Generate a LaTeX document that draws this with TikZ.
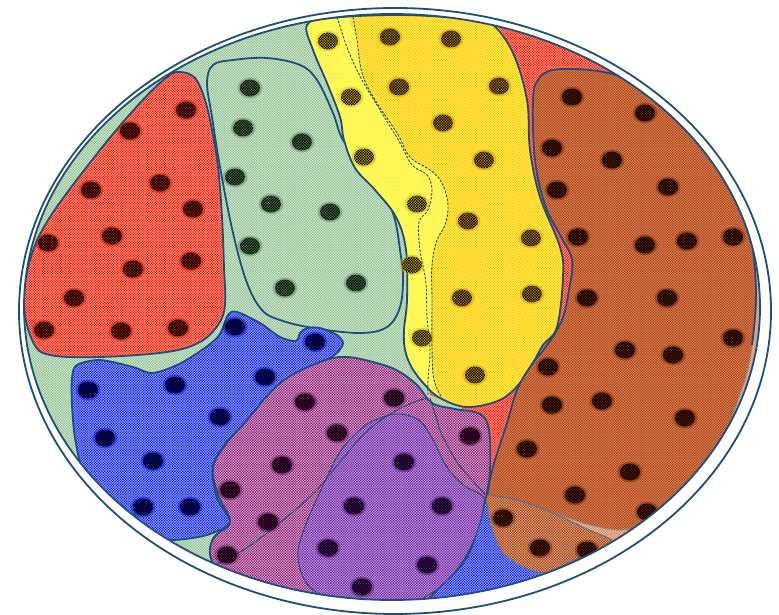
\documentclass[tikz,border=0pt]{standalone}
\usetikzlibrary{patterns}
\pgfdeclarepatternformonly{finecheck}{\pgfqpoint{-0.05pt}{-0.05pt}}{\pgfqpoint{2.65pt}{2.65pt}}{\pgfqpoint{2.6pt}{2.6pt}}{%
  \pgfpathrectangle{\pgfqpoint{0pt}{0pt}}{\pgfqpoint{1.3pt}{1.3pt}}%
  \pgfpathrectangle{\pgfqpoint{1.3pt}{1.3pt}}{\pgfqpoint{1.3pt}{1.3pt}}%
  \pgfusepath{fill}}
\definecolor{edge}{RGB}{31,78,121}
\definecolor{cgreen}{RGB}{140,190,140}
\definecolor{cred}{RGB}{255,25,0}
\definecolor{cblue}{RGB}{10,30,255}
\definecolor{cyel}{RGB}{255,245,0}
\definecolor{cgold}{RGB}{255,195,0}
\definecolor{cbrown}{RGB}{180,60,5}
\definecolor{ctan}{RGB}{210,130,80}
\definecolor{cmag}{RGB}{140,20,115}
\definecolor{cvio}{RGB}{110,30,165}
\definecolor{dred}{RGB}{150,25,0}
\definecolor{dgreen}{RGB}{80,120,80}
\definecolor{dyel}{RGB}{200,170,0}
\definecolor{dgold}{RGB}{190,140,0}
\definecolor{dbrown}{RGB}{100,30,0}
\definecolor{dblue}{RGB}{0,10,150}
\definecolor{dmag}{RGB}{90,10,75}
\definecolor{dvio}{RGB}{75,15,110}
\tikzset{
  region/.style 2 args={preaction={fill=#2}, pattern=finecheck, pattern color=#1},
  outline/.style={draw=edge, line width=1.8pt},
  thinline/.style={draw=edge, line width=0.9pt},
  dashline/.style={draw=edge, line width=0.9pt, dash pattern=on 2.5pt off 1.5pt},
  spot/.style={preaction={fill=#1}, pattern=finecheck, pattern color=black},
}
\newcommand\spotset[2]{\foreach \xx/\yy in {#2}{%
  \fill[#1,opacity=.4] (\xx,\yy) ellipse [x radius=12.5pt,y radius=10.5pt];
  \path[spot=#1] (\xx,\yy) ellipse [x radius=10pt,y radius=8.5pt];}}
\begin{document}
\begin{tikzpicture}[x=1pt,y=-1pt]
\useasboundingbox (0,0) rectangle (779,615);
% green background ellipse
\path[region={cgreen}{cgreen!25!white}] (392,307) ellipse [x radius=368pt, y radius=293pt];
\begin{scope}
\clip (392,307) ellipse [x radius=368pt, y radius=293pt];
% big red region on the right
\path[region={cred}{cred!35!white}] (385,0) -- (790,0) -- (790,420) -- (640,560) -- (488,505) -- (478,440) -- (460,405) -- (430,395) -- (420,250) -- cycle;
% blue region at the bottom
\path[region={cblue}{cblue!30!white}] (470,470) -- (490,500) -- (492,530) -- (510,560) -- (545,575) -- (560,600) -- (560,640) -- (380,640) -- (420,580) -- cycle;
% tan band of the brown region
\path[region={ctan}{ctan!40!white}] plot[smooth, tension=.6] coordinates {(487,497) (493,467) (507,423) (517,390) (530,367) (547,345) (562,320) (569,290) (572,260) (560,235) (545,205) (535,160) (533,100) (538,80) (553,70) (590,70) (623,77) (653,90) (680,110) (713,140) (743,197)} -- (800,200) -- (800,640) -- (556,600) -- (545,570) -- (505,550) -- (490,520) -- cycle;
% red region on the left
\path[region={cred}{cred!35!white}, outline] plot[smooth cycle, tension=.6] coordinates {(180,72) (195,78) (205,100) (212,130) (218,167) (222,217) (224,267) (225,305) (218,325) (200,342) (167,352) (100,357) (50,355) (33,342) (24,305) (30,260) (50,217) (100,150) (140,103) (167,77)};
% inner green region
\path[region={cgreen}{cgreen!25!white}, outline] plot[smooth cycle, tension=.6] coordinates {(207,83) (213,65) (233,60) (267,58) (300,65) (317,80) (333,113) (343,140) (367,173) (385,195) (395,220) (400,250) (403,277) (400,307) (387,327) (360,333) (313,328) (280,320) (262,310) (247,283) (233,233) (220,167) (212,117)};
% blue region on the left
\path[region={cblue}{cblue!30!white}, outline] plot[smooth cycle, tension=.5] coordinates {(228,315) (237,312) (260,323) (280,337) (296,341) (300,333) (307,328) (320,328) (337,335) (343,343) (338,352) (327,360) (300,378) (267,405) (233,435) (213,465) (217,498) (230,522) (207,535) (173,540) (157,535) (133,522) (100,498) (83,472) (75,438) (72,405) (72,378) (77,365) (100,360) (133,367) (153,373) (183,362) (217,338)};
% yellow region
\path[region={cyel}{cyel!25!white}] plot[smooth cycle, tension=.6] coordinates {(307,25) (330,18) (400,15) (470,19) (492,24) (513,53) (527,100) (530,150) (540,197) (560,247) (563,277) (557,327) (543,345) (533,363) (520,383) (500,400) (467,407) (440,398) (425,385) (412,368) (405,350) (404,330) (407,300) (406,250) (396,217) (375,190) (355,168) (344,140) (340,117) (327,83) (313,50)};
% gold region
\path[region={cgold}{cyel!55!white}] plot[smooth cycle, tension=.6] coordinates {(353,17) (357,40) (362,73) (375,100) (397,133) (410,157) (430,170) (442,183) (448,205) (445,225) (437,240) (432,265) (432,300) (432,350) (434,380) (442,398) (467,407) (500,400) (520,383) (533,363) (543,345) (557,327) (563,277) (560,247) (540,197) (530,150) (527,100) (513,53) (492,21) (470,16) (400,14)};
\draw[dashline] plot[smooth, tension=.6] coordinates {(353,17) (357,40) (362,73) (375,100) (397,133) (410,157) (430,170) (442,183) (448,205) (445,225) (437,240) (432,265) (432,300) (432,350) (434,380) (442,398)};
\draw[dashline] plot[smooth, tension=.6] coordinates {(337,17) (348,50) (362,80) (380,110) (400,143) (412,165) (427,175) (432,190) (428,210) (419,222) (420,250) (426,283) (427,317) (430,350) (428,380) (428,395)};
\path[outline] plot[smooth cycle, tension=.6] coordinates {(307,25) (330,18) (400,15) (470,19) (492,24) (513,53) (527,100) (530,150) (540,197) (560,247) (563,277) (557,327) (543,345) (533,363) (520,383) (500,400) (467,407) (440,398) (425,385) (412,368) (405,350) (404,330) (407,300) (406,250) (396,217) (375,190) (355,168) (344,140) (340,117) (327,83) (313,50)};
% brown region
\path[region={cbrown}{cbrown!55!white}, draw=edge!60, line width=.7pt] plot[smooth cycle, tension=.6] coordinates {(487,497) (493,467) (507,423) (517,390) (530,367) (547,345) (562,320) (569,290) (572,260) (560,235) (545,205) (535,160) (533,100) (538,80) (553,70) (590,70) (623,77) (653,90) (680,110) (713,140) (743,197) (753,250) (756,300) (750,360) (738,400) (725,435) (708,470) (680,503) (650,522) (623,530) (590,525) (553,513) (517,501)};
\draw[outline] plot[smooth, tension=.6] coordinates {(487,497) (493,467) (507,423) (517,390) (530,367) (547,345) (562,320) (569,290) (572,260) (560,235) (545,205) (535,160) (533,100) (538,80) (553,70) (590,70) (623,77) (653,90) (680,110) (713,140) (743,197) (753,250) (756,300) (752,345)};
% brown triangle
\path[region={cbrown!90!black}{ctan!55!white}, draw=edge!80, line width=.9pt] plot[smooth cycle, tension=.5] coordinates {(487,495) (520,501) (553,513) (587,529) (612,540) (608,546) (585,555) (560,567) (545,573) (525,568) (503,553) (491,527) (487,505)};
% magenta region
\path[region={cmag}{cmag!25!white}, outline] plot[smooth cycle, tension=.6] coordinates {(213,468) (218,495) (230,522) (214,537) (210,555) (220,573) (245,592) (300,612) (400,615) (445,582) (467,557) (478,527) (486,497) (490,470) (489,430) (480,414) (455,409) (432,403) (418,386) (400,372) (380,364) (347,357) (320,362) (280,383) (247,420) (225,445)};
% violet region
\path[region={cvio}{cvio!35!white}, thinline] plot[smooth cycle, tension=.6] coordinates {(400,414) (380,418) (362,428) (340,452) (320,492) (303,532) (298,558) (308,585) (333,598) (400,605) (433,592) (458,568) (476,535) (484,503) (480,494) (465,486) (447,467) (433,440) (420,421)};
\draw[thinline] plot[smooth, tension=.6] coordinates {(215,565) (240,552) (267,533) (295,510) (317,490) (340,462) (365,433) (390,414) (412,403) (427,398)};
\draw[thinline] plot[smooth, tension=.6] coordinates {(430,398) (437,420) (442,435) (457,462) (472,480) (485,494)};
% spots
\spotset{dred}{186/110, 130/131, 160/183, 91/190, 193/209, 112/236, 48/243, 133/269, 191/261, 74/298, 44/330, 121/331, 178/328}
\spotset{dgreen}{250/88, 243/128, 302/142, 235/177, 271/204, 330/212, 250/246, 285/288, 356/283}
\spotset{dyel}{328/41, 351/97, 364/157, 417/204, 412/265, 422/338}
\spotset{dgold}{390/37, 451/39, 399/87, 499/86, 443/123, 484/160, 468/221, 531/238, 462/298, 532/294, 475/375}
\spotset{dbrown}{572/97, 645/113, 552/148, 612/160, 557/190, 668/187, 578/237, 645/245, 687/241, 733/237, 587/298, 667/298, 625/350, 673/355, 733/338, 548/367, 552/405, 602/401, 685/418, 527/449, 630/472, 575/495, 647/512, 503/518, 540/548, 587/550}
\spotset{dblue}{235/327, 315/342, 88/390, 175/385, 265/377, 220/417, 105/438, 153/461, 143/507, 190/507}
\spotset{dmag}{305/402, 394/398, 337/433, 282/465, 230/490, 268/522, 227/555, 470/436}
\spotset{dvio}{404/462, 354/506, 442/506, 328/548, 427/565, 362/587}
\end{scope}
\draw[outline] (392,307) ellipse [x radius=368pt, y radius=293pt];
\draw[outline] (395,311) ellipse [x radius=376pt, y radius=303pt];
\end{tikzpicture}
\end{document}
